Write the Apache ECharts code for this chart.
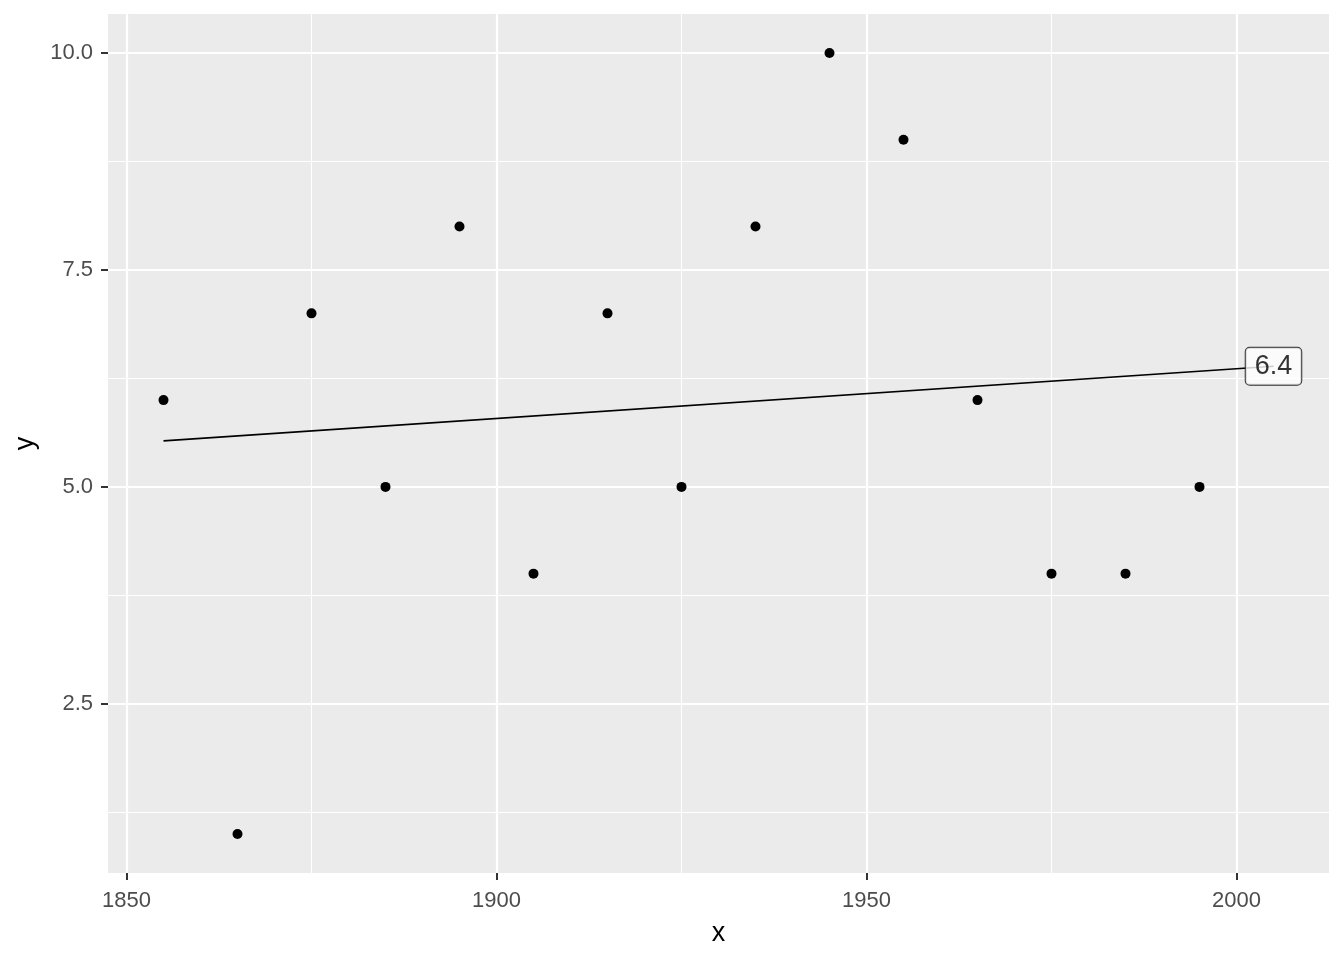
<!DOCTYPE html>
<html>
<head>
<meta charset="utf-8">
<script src="https://cdn.jsdelivr.net/npm/echarts@6/dist/echarts.min.js"></script>
<style>
html,body{margin:0;padding:0;background:#fff;}
#chart{width:1344px;height:960px;}
</style>
</head>
<body>
<div id="chart"></div>
<script>
// ---- data ----
const xValues = [1855, 1865, 1875, 1885, 1895, 1905, 1915, 1925, 1935, 1945, 1955, 1965, 1975, 1985, 1995];
const yValues = [6, 1, 7, 5, 8, 4, 7, 5, 8, 10, 9, 6, 4, 4, 5];
const fitX = [1855, 2005];
const fitY = [5.53, 6.39];
const fitLabel = ['6.4'];
const xMajorTicks = [1850, 1900, 1950, 2000];
const xMinorTicks = [1875, 1925, 1975];
const yMajorTicks = [2.5, 5.0, 7.5, 10.0];
const yMinorTicks = [1.25, 3.75, 6.25, 8.75];
const xRange = [1847.5, 2012.5];
const yRange = [0.55, 10.45];

const FONT = "'Liberation Sans', Arial, sans-serif";

const gridLines = [];
xMajorTicks.forEach(v => gridLines.push({xAxis: v, lineStyle: {width: 2.2}}));
xMinorTicks.forEach(v => gridLines.push({xAxis: v, lineStyle: {width: 1.1}}));
yMajorTicks.forEach(v => gridLines.push({yAxis: v, lineStyle: {width: 2.2}}));
yMinorTicks.forEach(v => gridLines.push({yAxis: v, lineStyle: {width: 1.1}}));

const chart = echarts.init(document.getElementById('chart'), null, {renderer: 'canvas'});
chart.setOption({
  animation: false,
  backgroundColor: '#ffffff',
  grid: {
    left: 108, top: 14, width: 1221, height: 859,
    show: true, backgroundColor: '#EBEBEB', borderWidth: 0
  },
  xAxis: {
    type: 'value', min: xRange[0], max: xRange[1],
    name: 'x', nameLocation: 'middle', nameGap: 47,
    nameTextStyle: {color: '#000', fontSize: 27, fontFamily: FONT},
    axisLine: {show: false},
    axisTick: {show: true, customValues: xMajorTicks, length: 7, lineStyle: {color: '#333333', width: 2}},
    axisLabel: {customValues: xMajorTicks, color: '#4D4D4D', fontSize: 22, fontFamily: FONT, margin: 17,
      formatter: v => String(v)},
    splitLine: {show: false}
  },
  yAxis: {
    type: 'value', min: yRange[0], max: yRange[1],
    name: 'y', nameLocation: 'middle', nameGap: 57,
    nameTextStyle: {color: '#000', fontSize: 27, fontFamily: FONT},
    axisLine: {show: false},
    axisTick: {show: true, customValues: yMajorTicks, length: 7, lineStyle: {color: '#333333', width: 2}},
    axisLabel: {customValues: yMajorTicks, color: '#4D4D4D', fontSize: 22, fontFamily: FONT, margin: 15,
      formatter: v => Number(v).toFixed(1)},
    splitLine: {show: false}
  },
  series: [
    {
      type: 'line', data: [], z: 1, silent: true,
      markLine: {
        z: 1, silent: true, symbol: 'none', animation: false,
        label: {show: false},
        emphasis: {disabled: true},
        lineStyle: {color: '#ffffff', type: 'solid', width: 1},
        data: gridLines
      }
    },
    {
      type: 'scatter', z: 3,
      data: xValues.map((x, i) => [x, yValues[i]]),
      symbol: 'circle', symbolSize: 10,
      itemStyle: {color: '#000000', opacity: 1}
    },
    {
      type: 'line', z: 4,
      data: fitX.map((x, i) => [x, fitY[i]]),
      symbol: 'none', lineStyle: {color: '#000000', width: 1.7}
    },
    {
      type: 'scatter', z: 5,
      data: [[fitX[1], fitY[1]]],
      symbol: 'circle', symbolSize: 1,
      itemStyle: {color: 'rgba(0,0,0,0)'},
      label: {
        show: true, position: 'inside', formatter: () => fitLabel[0],
        color: '#000', fontSize: 27, fontFamily: FONT, lineHeight: 28,
        backgroundColor: '#ffffff', borderColor: '#000000', borderWidth: 1,
        borderRadius: 4, padding: [5, 9, 4, 9]
      }
    }
  ]
});
</script>
</body>
</html>
